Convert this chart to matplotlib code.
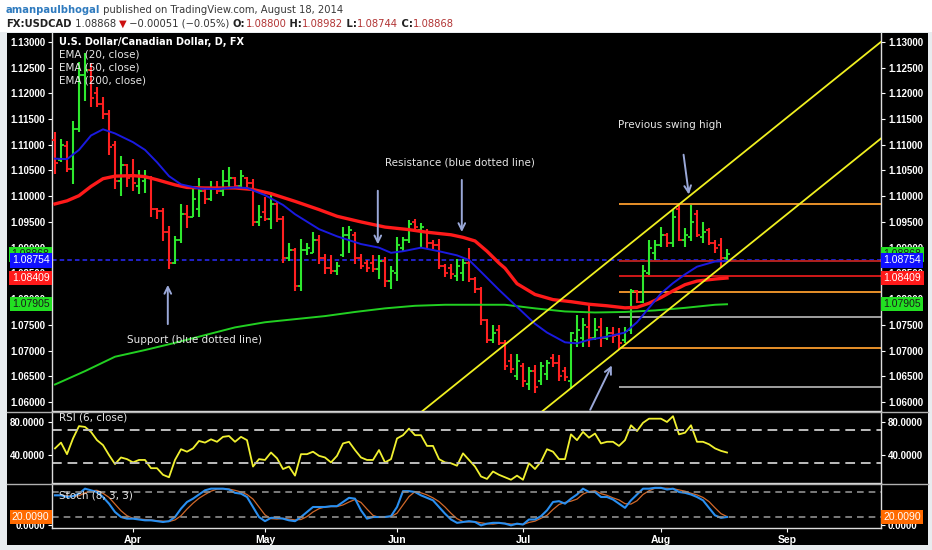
import numpy as np
import matplotlib
matplotlib.use('Agg')
import matplotlib.pyplot as plt
from matplotlib.patches import Rectangle
from matplotlib.transforms import blended_transform_factory

# ── Data (USDCAD daily, Mar 13 - Aug 18 2014) ──────────────────────────────
opens = [1.1110, 1.1070, 1.1098, 1.1052, 1.1130, 1.1235, 1.1245, 1.1200, 1.1180, 1.1160,
         1.1100, 1.1030, 1.1060, 1.1040, 1.1020, 1.1030, 1.1035, 1.0975, 1.0972, 1.0930,
         1.0870, 1.0915, 1.0965, 1.0960, 1.0975, 1.1010, 1.0995, 1.1015, 1.1010, 1.1030,
         1.1035, 1.1020, 1.1035, 1.1025, 1.0950, 1.0970, 1.0955, 1.0985, 1.0955, 1.0880,
         1.0895, 1.0825, 1.0895, 1.0890, 1.0915, 1.0880, 1.0860, 1.0855, 1.0885, 1.0925,
         1.0925, 1.0880, 1.0870, 1.0870, 1.0858, 1.0875, 1.0835, 1.0850, 1.0900, 1.0915,
         1.0950, 1.0935, 1.0930, 1.0910, 1.0905, 1.0865, 1.0860, 1.0845, 1.0850, 1.0870,
         1.0840, 1.0820, 1.0760, 1.0720, 1.0740, 1.0715, 1.0680, 1.0650, 1.0670, 1.0635,
         1.0660, 1.0640, 1.0655, 1.0685, 1.0675, 1.0660, 1.0640, 1.0720, 1.0725, 1.0745,
         1.0725, 1.0745, 1.0725, 1.0735, 1.0730, 1.0720, 1.0740, 1.0815, 1.0795, 1.0850,
         1.0890, 1.0905, 1.0925, 1.0910, 1.0975, 1.0915, 1.0920, 1.0965, 1.0920, 1.0935,
         1.0910, 1.0905, 1.0880]
highs = [1.1125, 1.1112, 1.1108, 1.1147, 1.1261, 1.1278, 1.1258, 1.1213, 1.1193, 1.1167,
         1.1108, 1.1079, 1.1063, 1.1073, 1.1050, 1.1050, 1.1040, 1.0978, 1.0978, 1.0943,
         1.0923, 1.0985, 1.0982, 1.1014, 1.1035, 1.1017, 1.1030, 1.1030, 1.1050, 1.1056,
         1.1037, 1.1050, 1.1037, 1.1034, 1.0982, 1.0998, 1.1008, 1.0990, 1.0962, 1.0910,
         1.0900, 1.0917, 1.0910, 1.0930, 1.0924, 1.0888, 1.0885, 1.0872, 1.0940, 1.0943,
         1.0930, 1.0888, 1.0876, 1.0885, 1.0885, 1.0882, 1.0865, 1.0920, 1.0920, 1.0953,
         1.0956, 1.0947, 1.0937, 1.0914, 1.0917, 1.0869, 1.0869, 1.0878, 1.0878, 1.0900,
         1.0843, 1.0824, 1.0762, 1.0749, 1.0749, 1.0720, 1.0694, 1.0694, 1.0675, 1.0668,
         1.0672, 1.0678, 1.0682, 1.0694, 1.0691, 1.0668, 1.0737, 1.0769, 1.0763, 1.0792,
         1.0763, 1.0763, 1.0745, 1.0745, 1.0743, 1.0745, 1.0820, 1.0818, 1.0866, 1.0915,
         1.0915, 1.0940, 1.0928, 1.0973, 1.0985, 1.0938, 1.0983, 1.0973, 1.0950, 1.0938,
         1.0915, 1.0918, 1.08982]
lows = [1.1043, 1.1066, 1.1047, 1.1024, 1.1125, 1.1185, 1.1173, 1.1174, 1.1151, 1.1080,
        1.1014, 1.1001, 1.1017, 1.1011, 1.1004, 1.1007, 1.0959, 1.0956, 1.0913, 1.0858,
        1.0868, 1.0910, 1.0939, 1.0959, 1.0959, 1.0985, 1.0990, 1.1004, 1.1001, 1.1017,
        1.1014, 1.1014, 1.1014, 1.0943, 1.0943, 1.0952, 1.0936, 1.0950, 1.0871, 1.0874,
        1.0816, 1.0816, 1.0885, 1.0890, 1.0868, 1.0849, 1.0849, 1.0846, 1.0881, 1.0890,
        1.0868, 1.0859, 1.0853, 1.0853, 1.0840, 1.0823, 1.0820, 1.0836, 1.0894, 1.0910,
        1.0934, 1.0902, 1.0898, 1.0898, 1.0859, 1.0843, 1.0840, 1.0836, 1.0836, 1.0833,
        1.0811, 1.0749, 1.0714, 1.0714, 1.0710, 1.0662, 1.0656, 1.0643, 1.0630, 1.0623,
        1.0617, 1.0633, 1.0643, 1.0668, 1.0640, 1.0640, 1.0626, 1.0707, 1.0707, 1.0707,
        1.0721, 1.0707, 1.0720, 1.0715, 1.0701, 1.0715, 1.0733, 1.0792, 1.0792, 1.0847,
        1.0876, 1.0902, 1.0902, 1.0902, 1.0912, 1.0902, 1.0912, 1.0921, 1.0910, 1.0905,
        1.0890, 1.0860, 1.08744]
closes = [1.1065, 1.1100, 1.1052, 1.1130, 1.1235, 1.1245, 1.1190, 1.1180, 1.1160, 1.1095,
          1.1030, 1.1060, 1.1035, 1.1025, 1.1040, 1.1035, 1.0975, 1.0972, 1.0930, 1.0870,
          1.0915, 1.0965, 1.0960, 1.0995, 1.1010, 1.0995, 1.1015, 1.1010, 1.1030, 1.1035,
          1.1020, 1.1040, 1.1025, 1.0950, 1.0960, 1.0955, 1.0985, 1.0955, 1.0880, 1.0895,
          1.0825, 1.0895, 1.0900, 1.0915, 1.0880, 1.0860, 1.0855, 1.0865, 1.0925, 1.0935,
          1.0880, 1.0865, 1.0860, 1.0858, 1.0875, 1.0835, 1.0855, 1.0905, 1.0915, 1.0945,
          1.0940, 1.0940, 1.0910, 1.0905, 1.0865, 1.0850, 1.0848, 1.0865, 1.0870, 1.0840,
          1.0820, 1.0760, 1.0720, 1.0735, 1.0715, 1.0670, 1.0665, 1.0680, 1.0640, 1.0660,
          1.0630, 1.0670, 1.0675, 1.0675, 1.0650, 1.0648, 1.0735, 1.0740, 1.0750, 1.0725,
          1.0740, 1.0725, 1.0735, 1.0728, 1.0715, 1.0738, 1.0815, 1.0795, 1.0855, 1.0900,
          1.0905, 1.0925, 1.0910, 1.0960, 1.0915, 1.0925, 1.0950, 1.0925, 1.0930, 1.0910,
          1.0900, 1.0880, 1.08868]

# moving averages, read at selected bars
ema20_idx = [0, 2, 4, 6, 8, 10, 13, 15, 17, 19, 21, 24, 27, 30, 32, 35, 38, 40, 44, 47,
             51, 54, 56, 58, 61, 64, 67, 69, 71, 74, 77, 80, 82, 85, 87, 89, 92, 95, 97, 99,
             101, 103, 105, 107, 110, 112]
ema20 = [1.1073, 1.1072, 1.1090, 1.1118, 1.1130, 1.1122, 1.1105, 1.1090, 1.1066, 1.1039,
         1.1023, 1.1015, 1.1014, 1.1017, 1.1016, 1.1002, 1.0983, 1.0965, 1.0936, 1.0922,
         1.0907, 1.0900, 1.0890, 1.0893, 1.0900, 1.0893, 1.0885, 1.0876, 1.0853, 1.0818,
         1.0785, 1.0752, 1.0735, 1.0716, 1.0714, 1.0721, 1.0727, 1.0735, 1.0755, 1.0783,
         1.0811, 1.0831, 1.0848, 1.0863, 1.0873, 1.0874]
ema50_idx = [0, 2, 4, 6, 8, 10, 13, 15, 17, 20, 22, 25, 30, 33, 36, 40, 44, 47, 51, 55,
             59, 62, 66, 68, 70, 72, 74, 75, 77, 80, 83, 86, 89, 92, 95, 97, 99, 101, 103,
             105, 107, 110, 112]
ema50 = [1.0985, 1.0991, 1.1001, 1.1019, 1.1034, 1.1039, 1.1040, 1.1038, 1.1032, 1.1022,
         1.1017, 1.1016, 1.1016, 1.1013, 1.1005, 1.0990, 1.0974, 1.0961, 1.0950, 1.0940,
         1.0935, 1.0930, 1.0925, 1.0920, 1.0913, 1.0893, 1.0870, 1.0860, 1.0830, 1.0809,
         1.0799, 1.0795, 1.0790, 1.0787, 1.0783, 1.0784, 1.0792, 1.0803, 1.0816, 1.0828,
         1.0835, 1.0839, 1.0841]
ema200_idx = [0, 5, 10, 15, 20, 25, 30, 35, 40, 45, 50, 55, 60, 65, 70, 75, 80, 85, 90, 95,
              100, 105, 110, 112]
ema200 = [1.0634, 1.0660, 1.0688, 1.0701, 1.0715, 1.0730, 1.0745, 1.0755, 1.0761, 1.0767,
          1.0775, 1.0782, 1.0787, 1.0789, 1.0789, 1.0789, 1.0782, 1.0776, 1.0774, 1.0775,
          1.0778, 1.0783, 1.0789, 1.0790]

rsi = [48, 55, 41, 60, 75, 74, 68, 58, 52, 40, 29, 37, 35, 31, 34, 34, 24, 24, 16, 13,
       34, 47, 44, 48, 57, 55, 59, 56, 62, 63, 56, 62, 58, 26, 35, 34, 43, 36, 23, 26,
       15, 41, 41, 44, 39, 37, 31, 39, 54, 56, 46, 37, 34, 34, 46, 31, 35, 60, 64, 72,
       64, 64, 51, 51, 35, 31, 30, 27, 42, 34, 26, 14, 11, 20, 16, 13, 10, 15, 10, 30,
       23, 32, 47, 44, 35, 35, 65, 58, 68, 61, 66, 54, 56, 56, 51, 58, 76, 69, 79, 84,
       84, 84, 80, 87, 65, 67, 76, 56, 56, 53, 48, 45, 43]
stoch_k = [72, 72, 68, 70, 76, 88, 84, 80, 68, 52, 32, 20, 16, 16, 14, 12, 12, 10, 8, 10,
           20, 40, 56, 64, 74, 84, 88, 88, 88, 86, 78, 76, 68, 44, 20, 10, 18, 18, 16, 12,
           10, 20, 32, 44, 44, 44, 46, 46, 56, 66, 64, 36, 16, 20, 20, 20, 22, 44, 82, 82,
           80, 72, 66, 60, 44, 28, 14, 6, 8, 10, 8, 0, 4, 6, 6, 4, 0, 4, 2, 14,
           14, 22, 36, 56, 58, 52, 64, 74, 88, 80, 80, 68, 68, 62, 52, 42, 60, 74, 88, 88,
           90, 90, 86, 88, 80, 78, 74, 68, 60, 42, 24, 18, 20]
stoch_d = [72, 72, 71, 70, 71, 78, 83, 84, 77, 67, 51, 35, 23, 17, 15, 14, 13, 11, 10, 9,
           13, 23, 39, 53, 65, 74, 82, 87, 88, 87, 84, 80, 74, 63, 44, 25, 16, 15, 17, 15,
           13, 14, 21, 32, 40, 44, 45, 45, 49, 56, 62, 55, 39, 24, 19, 20, 21, 29, 49, 69,
           81, 78, 73, 66, 57, 44, 29, 16, 9, 8, 9, 6, 4, 3, 5, 5, 3, 3, 2, 7,
           10, 17, 24, 38, 50, 55, 58, 63, 75, 81, 83, 76, 72, 66, 61, 52, 51, 59, 74, 83,
           89, 89, 89, 88, 85, 82, 77, 73, 67, 57, 42, 28, 21]

month_labels = ['Apr', 'May', 'Jun', 'Jul', 'Aug', 'Sep']
month_idx = [13, 35, 57, 78, 101, 122]

support_level = 1.08754
fib_levels = [1.0985, 1.0875, 1.0845, 1.0813, 1.0765, 1.0705, 1.0630]
fib_colors = ['#e8902a', '#b02020', '#d01818', '#e8902a', '#a0a0a0', '#e8902a', '#a0a0a0']
fib_start = 94
# two points on each channel line (bar index, price)
channel_upper = [(84.2, 1.0798), (115.3, 1.1090)]
channel_lower = [(84.2, 1.0610), (135.3, 1.1090)]

tags = [(1.08868, '#22e022', '#1a1a1a'), (1.08754, '#1010ff', 'white'),
        (1.08409, '#ff1a1a', 'white'), (1.07905, '#22e022', '#1a1a1a')]

# ── Figure ─────────────────────────────────────────────────────────────────
W, H = 932, 550
fig = plt.figure(figsize=(W / 100, H / 100), dpi=100)
fig.patch.set_facecolor('#e8ecef')
fig.add_artist(Rectangle((0, 1 - 32 / H), 1, 32 / H, transform=fig.transFigure,
                         facecolor='white', edgecolor='none', zorder=-10))
fig.add_artist(Rectangle((7 / W, 5 / H), 921 / W, (545 - 33) / H, transform=fig.transFigure,
                         facecolor='black', edgecolor='none', zorder=-10))

L, R = 52, 881
ax = fig.add_axes([L / W, (H - 411) / H, (R - L) / W, 378 / H])
ax_rsi = fig.add_axes([L / W, (H - 483) / H, (R - L) / W, 71 / H])
ax_st = fig.add_axes([L / W, (H - 528) / H, (R - L) / W, 44 / H])

xlim = (-0.5, (R - 55) / 6)

for a in (ax, ax_rsi, ax_st):
    a.set_facecolor('black')
    a.set_xlim(*xlim)
    for s in a.spines.values():
        s.set_color('#dddddd')
        s.set_linewidth(1)
    a.spines['top'].set_visible(False)
    a.tick_params(axis='y', which='both', left=True, right=True, labelleft=True,
                  labelright=True, colors='white', length=3, pad=2, labelsize=7)
    a.tick_params(axis='x', bottom=False, labelbottom=False)

# separators across the whole black area
for yy in (411.5, 483.5):
    fig.add_artist(plt.Line2D([7 / W, 928 / W], [1 - yy / H] * 2, color='#b0b0b0', lw=1))

# ── Main price panel ───────────────────────────────────────────────────────
idx = np.arange(len(closes))
o, h, l, c = map(np.array, (opens, highs, lows, closes))
cols = np.where(c >= o, '#2ee82e', '#ff2020')
ax.vlines(idx, l, h, colors=cols, lw=1.5, zorder=3)
ax.hlines(o, idx - 0.45, idx, colors=cols, lw=1.3, zorder=3)
ax.hlines(c, idx, idx + 0.45, colors=cols, lw=1.3, zorder=3)

ax.plot(ema200_idx, ema200, color='#22d022', lw=1.4, zorder=4)
ax.plot(ema50_idx, ema50, color='#ff1a1a', lw=2.4, zorder=4, solid_joinstyle='round')
ax.plot(ema20_idx, ema20, color='#1a1ae0', lw=1.4, zorder=4, solid_joinstyle='round')

ax.axhline(support_level, color='#2a2aff', lw=1.1, ls=(0, (3, 2)), zorder=2)
for lev, col in zip(fib_levels, fib_colors):
    ax.hlines(lev, fib_start, xlim[1], colors=col, lw=1.4, zorder=2)

for p1, p2 in (channel_upper, channel_lower):
    ax.axline(p1, p2, color='#f0f020', lw=1.3, zorder=5)

yt = np.arange(1.06, 1.1301, 0.005)
ax.set_ylim(1.06 - 9 / 5145, 1.06 + 369 / 5145)
ax.set_yticks(yt)
ax.set_yticklabels([f'{v:.5f}' for v in yt])

TXT = dict(color='#e6e6e6', fontsize=7.5, family='DejaVu Sans')
ax.text(0.6, 1.1300, 'U.S. Dollar/Canadian Dollar, D, FX', color='white', fontsize=7,
        weight='bold', va='center', zorder=6)
for k, s in enumerate(['EMA (20, close)', 'EMA (50, close)', 'EMA (200, close)']):
    ax.text(0.6, 1.1275 - k * 0.0025, s, va='center', zorder=6, **TXT)

ax.text(12.0, 1.0721, 'Support (blue dotted line)', va='center', zorder=6, **TXT)
ax.text(55.0, 1.1065, 'Resistance (blue dotted line)', va='center', zorder=6, **TXT)
ax.text(93.8, 1.1138, 'Previous swing high', va='center', zorder=6, **TXT)

ARW = dict(arrowstyle='->', color='#9aa8d8', lw=1.4, mutation_scale=12)
ax.annotate('', xy=(18.8, 1.0833), xytext=(18.8, 1.0746), arrowprops=ARW, zorder=6)
ax.annotate('', xy=(53.8, 1.0901), xytext=(53.8, 1.1016), arrowprops=ARW, zorder=6)
ax.annotate('', xy=(67.8, 1.0925), xytext=(67.8, 1.1037), arrowprops=ARW, zorder=6)
ax.annotate('', xy=(105.7, 1.0998), xytext=(104.7, 1.1086), arrowprops=ARW, zorder=6)
ax.annotate('', xy=(93.0, 1.0676), xytext=(89.0, 1.0580), arrowprops=ARW, zorder=6,
            annotation_clip=False)


def side_tags(a, items, fmt):
    tr = blended_transform_factory(a.transAxes, a.transData)
    for val, bg, fg in items:
        for xa, ha in ((-0.003, 'right'), (1.003, 'left')):
            a.text(xa, val, fmt.format(val), transform=tr, ha=ha, va='center',
                   color=fg, family='Liberation Sans', fontsize=7.5, clip_on=False,
                   zorder=10, bbox=dict(boxstyle='square,pad=0.22', fc=bg, ec='none'))


side_tags(ax, tags, '{:.5f}')

# ── RSI panel ──────────────────────────────────────────────────────────────
ax_rsi.plot(idx, rsi, color='#f0f030', lw=1.3)
for lev in (70, 30):
    ax_rsi.axhline(lev, color='#bdbdbd', lw=1.4, ls=(0, (5, 3)))
ax_rsi.set_ylim(6.06, 92.1)
ax_rsi.set_yticks([40, 80])
ax_rsi.set_yticklabels(['40.0000', '80.0000'])
ax_rsi.text(0.6, 85, 'RSI (6, close)', va='center', **TXT)

# ── Stochastic panel ───────────────────────────────────────────────────────
ax_st.plot(idx, stoch_d, color='#d0682a', lw=0.9)
ax_st.plot(idx, stoch_k, color='#2a8ff0', lw=1.5)
for lev in (80, 20):
    ax_st.axhline(lev, color='#909090', lw=1.2, ls=(0, (4, 3)))
ax_st.set_ylim(-6.4, 99.2)
ax_st.set_yticks([0])
ax_st.set_yticklabels(['0.0000'])
ax_st.text(0.6, 72, 'Stoch (8, 3, 3)', va='center', **TXT)
side_tags(ax_st, [(20.0090, '#ff6a00', 'white')], '{:.4f}')

ax_st.set_xticks(month_idx)
ax_st.set_xticklabels(month_labels)
ax_st.tick_params(axis='x', bottom=True, labelbottom=True, colors='white', length=3, pad=2,
                  labelsize=7.5)

for a in (ax, ax_rsi, ax_st):
    for lab in a.get_yticklabels() + a.get_xticklabels():
        lab.set_fontfamily('Liberation Sans')
        lab.set_fontweight('bold')

# ── Header ─────────────────────────────────────────────────────────────────
renderer = fig.canvas.get_renderer()


def write_run(x_px, y_px, pieces, size):
    x = x_px / W
    for s, col, wt in pieces:
        t = fig.text(x, 1 - y_px / H, s, color=col, weight=wt, fontsize=size,
                     family='DejaVu Sans', va='center', ha='left')
        x += t.get_window_extent(renderer).width / W


write_run(6, 10, [('amanpaulbhogal', '#2f7bbf', 'bold'),
                  (' published on TradingView.com, August 18, 2014', '#3a3a3a', 'normal')], 7.2)
write_run(6, 24, [('FX:USDCAD', '#222222', 'bold'), (' 1.08868 ', '#333333', 'normal'),
                  ('▼', '#cc1010', 'normal'), (' −0.00051 (−0.05%) ', '#333333', 'normal'),
                  ('O:', '#222222', 'bold'), ('1.08800', '#b23535', 'normal'),
                  (' H:', '#222222', 'bold'), ('1.08982', '#b23535', 'normal'),
                  (' L:', '#222222', 'bold'), ('1.08744', '#b23535', 'normal'),
                  (' C:', '#222222', 'bold'), ('1.08868', '#b23535', 'normal')], 7.2)

fig.savefig('out.png', dpi=100, facecolor=fig.get_facecolor())
